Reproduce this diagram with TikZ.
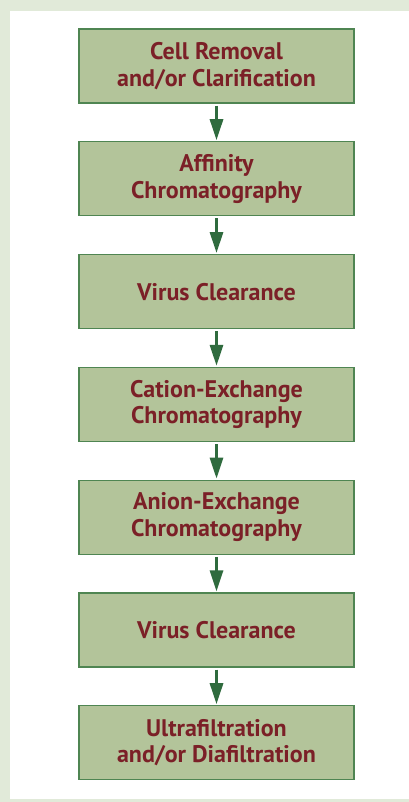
\documentclass[tikz,border=0pt]{standalone}
\usepackage{fontspec}
\setmainfont{PT Sans}
\usepackage{tikz}
\usetikzlibrary{positioning}
\usetikzlibrary{arrows.meta}
\definecolor{pagegreen}{HTML}{E1EAD9}
\definecolor{boxfill}{HTML}{B3C49A}
\definecolor{boxline}{HTML}{4F8552}
\definecolor{arrowgreen}{HTML}{2F6B3E}
\definecolor{textred}{HTML}{7B2027}
\tikzset{
  stage/.style={draw=boxline, line width=1.2pt, fill=boxfill, text=textred,
    minimum width=275pt, minimum height=74pt, inner sep=0pt, align=center,
    font=\fontsize{24}{26.5}\selectfont\bfseries},
  flow/.style={draw=arrowgreen, line width=3pt,
    -{Triangle[length=21pt, width=13pt]}, shorten <=2pt, shorten >=1pt}
}

\begin{document}
\begin{tikzpicture}[x=1pt, y=-1pt, node distance=37.6pt]
  \fill[pagegreen] (0,0) rectangle (409,802);
  \fill[white] (10,11) rectangle (409,799);
  \useasboundingbox (0,0) rectangle (409,802);
  % process steps
  \node[stage] (removal) at (216.5,66) {Cell Removal\\and/or Clarification};
  \node[stage, below=of removal] (affinity) {Affinity\\Chromatography};
  \node[stage, below=of affinity] (virusA) {Virus Clearance};
  \node[stage, below=of virusA] (cation) {Cation-Exchange\\Chromatography};
  \node[stage, below=of cation] (anion) {Anion-Exchange\\Chromatography};
  \node[stage, below=of anion] (virusB) {Virus Clearance};
  \node[stage, below=of virusB] (ultra) {Ultrafiltration\\and/or Diafiltration};
  % arrows
  \foreach \a/\b in {removal/affinity, affinity/virusA, virusA/cation,
                     cation/anion, anion/virusB, virusB/ultra}
    \draw[flow] (\a) -- (\b);
\end{tikzpicture}
\end{document}
